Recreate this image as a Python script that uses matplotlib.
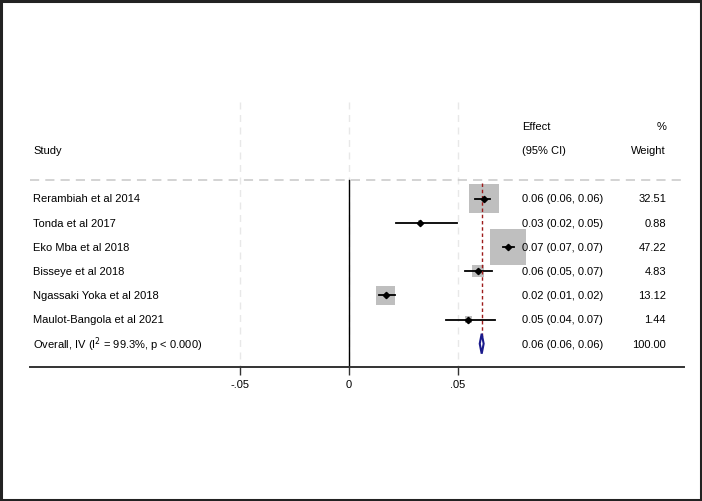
import numpy as np
import matplotlib.pyplot as plt
from matplotlib.patches import Rectangle, Polygon

plt.rcParams['font.family'] = ['Liberation Sans', 'DejaVu Sans']

studies = ["Rerambiah et al 2014", "Tonda et al 2017", "Eko Mba et al 2018",
           "Bisseye et al 2018", "Ngassaki Yoka et al 2018", "Maulot-Bangola et al 2021"]
es = [0.0619, 0.0326, 0.0731, 0.0592, 0.0168, 0.0548]
lo = [0.0580, 0.0214, 0.0706, 0.0534, 0.0138, 0.0445]
hi = [0.0647, 0.0498, 0.0757, 0.0656, 0.0211, 0.0670]
effect_txt = ["0.06 (0.06, 0.06)", "0.03 (0.02, 0.05)", "0.07 (0.07, 0.07)",
              "0.06 (0.05, 0.07)", "0.02 (0.01, 0.02)", "0.05 (0.04, 0.07)"]
weights = [32.51, 0.88, 47.22, 4.83, 13.12, 1.44]
overall_es, overall_lo, overall_hi = 0.0609, 0.0600, 0.0618
overall_label = "Overall, IV (I$^2$ = 99.3%, p < 0.000)"
overall_txt = "0.06 (0.06, 0.06)"
overall_w = "100.00"
xticks = [-0.05, 0, 0.05]
xticklabels = ["-.05", "0", ".05"]

W, H = 702, 502
fig = plt.figure(figsize=(W / 100, H / 100), dpi=100)
# outer frame
fig.patches.append(Rectangle((0.001, 0.002), 0.997, 0.995, transform=fig.transFigure,
                             fill=False, edgecolor='#222222', linewidth=2.2))

# axes in pixel layout: left 30, right 684, top 103, bottom 368
ax = fig.add_axes([30 / W, 1 - 368 / H, (684 - 30) / W, (368 - 103) / H])
xmin, xmax = -0.1463, 0.1537
ax.set_xlim(xmin, xmax)
ax.set_ylim(368, 103)  # y measured in pixels from top
px = (xmax - xmin) / (684 - 30)  # data units per pixel in x

for s in ['top', 'right', 'left']:
    ax.spines[s].set_visible(False)
ax.spines['bottom'].set_color('#333333')
ax.spines['bottom'].set_linewidth(1.4)
ax.set_yticks([])
ax.set_xticks(xticks)
ax.set_xticklabels(xticklabels, fontsize=8)
ax.tick_params(axis='x', length=6, width=1, color='#333333', pad=3)

# grid lines
for t in xticks:
    ax.plot([t, t], [103, 368], color='#e8e8e8', lw=1, ls=(0, (5, 4)), zorder=0)
ax.plot([xmin, xmax - 2 * px], [181, 181], color='#c8c8c8', lw=1.1, ls=(0, (6, 4)), zorder=0)
ax.plot([0, 0], [181, 368], color='black', lw=1.0, zorder=1)

fs = 8
x_name = xmin + 3 * px
x_eff = xmin + 492 * px
x_w = xmin + 636 * px

ax.text(x_eff, 127, "Effect", fontsize=fs, va='center', ha='left')
ax.text(x_w, 127, "%", fontsize=fs, va='center', ha='right')
ax.text(x_name, 151, "Study", fontsize=fs, va='center', ha='left')
ax.text(x_eff, 151, "(95% CI)", fontsize=fs, va='center', ha='left')
ax.text(x_w, 151, "Weight", fontsize=fs, va='center', ha='right')

row0, step = 199.5, 24.2
ys = [row0 + i * step for i in range(len(studies))]
y_over = row0 + len(studies) * step

wmax = max(weights)
for y, name, e, l, h, et, w in zip(ys, studies, es, lo, hi, effect_txt, weights):
    side = 36 * np.sqrt(w / wmax)
    ax.add_patch(Rectangle((e - side / 2 * px, y - side / 2), side * px, side,
                           facecolor='#bfbfbf', edgecolor='none', zorder=2))
    ax.plot([l, h], [y, y], color='black', lw=1.3, zorder=3)
    ax.plot([e], [y], marker='D', ms=3.2, color='black', zorder=4)
    ax.text(x_name, y, name, fontsize=fs, va='center', ha='left')
    ax.text(x_eff, y, et, fontsize=fs, va='center', ha='left')
    ax.text(x_w, y, f"{w:.2f}", fontsize=fs, va='center', ha='right')

# overall line and diamond
ax.plot([overall_es, overall_es], [184, y_over], color='#9e1b1b', lw=1.0,
        ls=(0, (2.5, 2)), zorder=3)
ax.add_patch(Polygon([[overall_lo, y_over], [overall_es, y_over - 10],
                      [overall_hi, y_over], [overall_es, y_over + 10]],
                     closed=True, facecolor='white', edgecolor='#1a1a8c', lw=1.5, zorder=4))
ax.text(x_name, y_over, overall_label, fontsize=fs, va='center', ha='left')
ax.text(x_eff, y_over, overall_txt, fontsize=fs, va='center', ha='left')
ax.text(x_w, y_over, overall_w, fontsize=fs, va='center', ha='right')

fig.savefig("out.png", dpi=100)
